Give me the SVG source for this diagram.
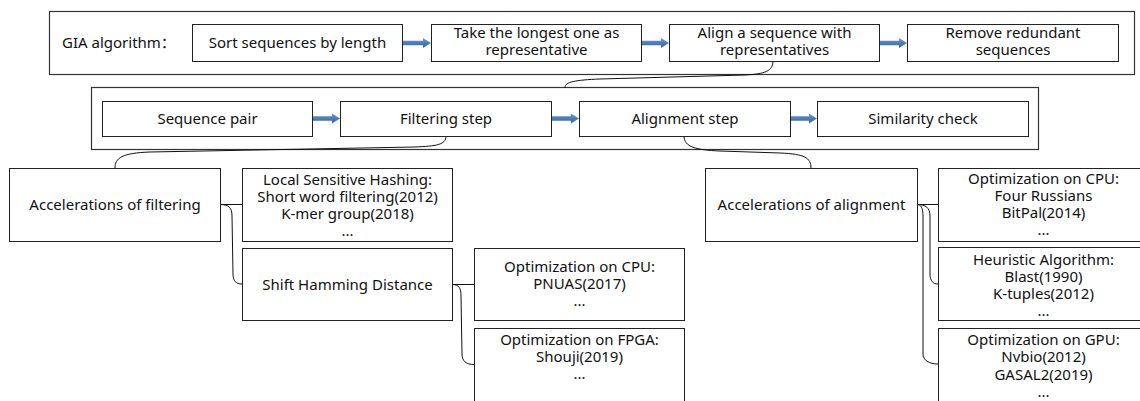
<svg xmlns="http://www.w3.org/2000/svg" xmlns:xlink="http://www.w3.org/1999/xlink" width="1140" height="401" viewBox="0 0 1140 401">
<defs>
<linearGradient id="ag" x1="0" y1="0" x2="0" y2="1">
<stop offset="0" stop-color="#6E9BD0"/>
<stop offset="0.5" stop-color="#4A7EBB"/>
<stop offset="1" stop-color="#3A6698"/>
</linearGradient>
<path id="arr" d="M0,-2.2 L20,-2.2 L20,-5 L28,0 L20,5 L20,2.2 L0,2.2 Z" fill="url(#ag)"/>
<style>
.frame{fill:#fff;stroke:#333;stroke-width:1.2}
.box{fill:#fff;stroke:#222;stroke-width:1}
.t{font-family:"Noto Sans","Open Sans","Noto Sans CJK SC",sans-serif;font-size:15px;fill:#111;text-anchor:middle}
.tl{font-family:"Noto Sans","Open Sans","Noto Sans CJK SC",sans-serif;font-size:15px;fill:#111}
.c{fill:none;stroke:#111;stroke-width:1}
</style>
</defs>
<rect width="1140" height="401" fill="#fff"/>

<g id="frame-gia"><rect class="frame" x="49.5" y="11.5" width="1085" height="63"/>
<text class="tl" x="62" y="48">GIA algorithm：</text></g>
<g id="frame-pair"><rect class="frame" x="91.5" y="87.5" width="947" height="62"/></g>

<g id="connectors">
<use href="#arr" x="403" y="43"/>
<use href="#arr" x="641" y="43"/>
<use href="#arr" x="879" y="43"/>
<use href="#arr" x="312" y="118.5"/>
<use href="#arr" x="551" y="118.5"/>
<use href="#arr" x="789" y="118.5"/>
<path class="c" d="M773,61 C773,71 765,74 745,75 L600,79 C575,80 565,82 565,87.5"/>
<path class="c" d="M446,136 C446,145 436,146 415,147 L150,152 C122,153 115,158 115,168"/>
<path class="c" d="M684,136 C684,147 696,150 720,151 L780,153 C805,154 811,158 811,168"/>
<path class="c" d="M220,204.5 L242,204.5"/>
<path class="c" d="M220,204.5 C229,204.5 232,208 232,216 L233,274 C233,281 236,284 242,284"/>
<path class="c" d="M452,284.5 L474,284.5"/>
<path class="c" d="M452,284.5 C459,284.5 461,288 461,296 L462,354 C462,361 466,364.5 474,364.5"/>
<path class="c" d="M917,204.5 L938,204.5"/>
<path class="c" d="M917,204.5 C926,204.5 930,208 930,216 L930,274 C930,281 933,284 938,284"/>
<path class="c" d="M917,204.5 C921,204.5 923,208 923,216 L923,354 C923,360 929,364 938,364"/>
</g>

<g id="n-sort"><rect class="box" x="192.5" y="24.5" width="210" height="37"/><text class="t" x="297.5" y="48">Sort sequences by length</text></g>
<g id="n-take"><rect class="box" x="431.5" y="24.5" width="210" height="37"/><text class="t" y="38"><tspan x="536.5">Take the longest one as</tspan><tspan x="536.5" dy="17">representative</tspan></text></g>
<g id="n-align"><rect class="box" x="669.5" y="24.5" width="210" height="37"/><text class="t" y="38"><tspan x="774.5">Align a sequence with</tspan><tspan x="774.5" dy="17">representatives</tspan></text></g>
<g id="n-remove"><rect class="box" x="907.5" y="24.5" width="211" height="37"/><text class="t" y="38"><tspan x="1013">Remove redundant</tspan><tspan x="1013" dy="17">sequences</tspan></text></g>

<g id="n-seqpair"><rect class="box" x="102.5" y="101.5" width="210" height="35"/><text class="t" x="207.5" y="124">Sequence pair</text></g>
<g id="n-filter"><rect class="box" x="340.5" y="101.5" width="211" height="35"/><text class="t" x="446" y="124">Filtering step</text></g>
<g id="n-alignstep"><rect class="box" x="579.5" y="101.5" width="211" height="35"/><text class="t" x="685" y="124">Alignment step</text></g>
<g id="n-sim"><rect class="box" x="817.5" y="101.5" width="211" height="35"/><text class="t" x="923" y="124">Similarity check</text></g>

<g id="n-accf"><rect class="box" x="9.5" y="168.5" width="211" height="73"/><text class="t" x="115" y="210">Accelerations of filtering</text></g>
<g id="n-lsh"><rect class="box" x="242.5" y="168.5" width="210" height="73"/>
<text class="t" y="185"><tspan x="347.5">Local Sensitive Hashing:</tspan><tspan x="347.5" dy="17">Short word filtering(2012)</tspan><tspan x="347.5" dy="17">K-mer group(2018)</tspan><tspan x="347.5" dy="17">...</tspan></text></g>
<g id="n-shd"><rect class="box" x="242.5" y="248.5" width="210" height="72"/><text class="t" x="347.5" y="290">Shift Hamming Distance</text></g>
<g id="n-cpu1"><rect class="box" x="474.5" y="248.5" width="210" height="72"/>
<text class="t" y="272"><tspan x="579.5">Optimization on CPU:</tspan><tspan x="579.5" dy="17">PNUAS(2017)</tspan><tspan x="579.5" dy="17">...</tspan></text></g>
<g id="n-fpga"><rect class="box" x="474.5" y="328.5" width="210" height="80"/>
<text class="t" y="345"><tspan x="579.5">Optimization on FPGA:</tspan><tspan x="579.5" dy="17">Shouji(2019)</tspan><tspan x="579.5" dy="17">...</tspan></text></g>

<g id="n-acca"><rect class="box" x="705.5" y="168.5" width="212" height="73"/><text class="t" x="811.5" y="210">Accelerations of alignment</text></g>
<g id="n-cpu2"><rect class="box" x="938.5" y="168.5" width="210" height="73"/>
<text class="t" y="184"><tspan x="1043.5">Optimization on CPU:</tspan><tspan x="1043.5" dy="17">Four Russians</tspan><tspan x="1043.5" dy="17">BitPal(2014)</tspan><tspan x="1043.5" dy="17">...</tspan></text></g>
<g id="n-heur"><rect class="box" x="938.5" y="247.5" width="210" height="73"/>
<text class="t" y="265"><tspan x="1043.5">Heuristic Algorithm:</tspan><tspan x="1043.5" dy="17">Blast(1990)</tspan><tspan x="1043.5" dy="17">K-tuples(2012)</tspan><tspan x="1043.5" dy="17">...</tspan></text></g>
<g id="n-gpu"><rect class="box" x="938.5" y="328.5" width="210" height="80"/>
<text class="t" y="345"><tspan x="1043.5">Optimization on GPU:</tspan><tspan x="1043.5" dy="17">Nvbio(2012)</tspan><tspan x="1043.5" dy="17.5">GASAL2(2019)</tspan><tspan x="1043.5" dy="17">...</tspan></text></g>
</svg>
